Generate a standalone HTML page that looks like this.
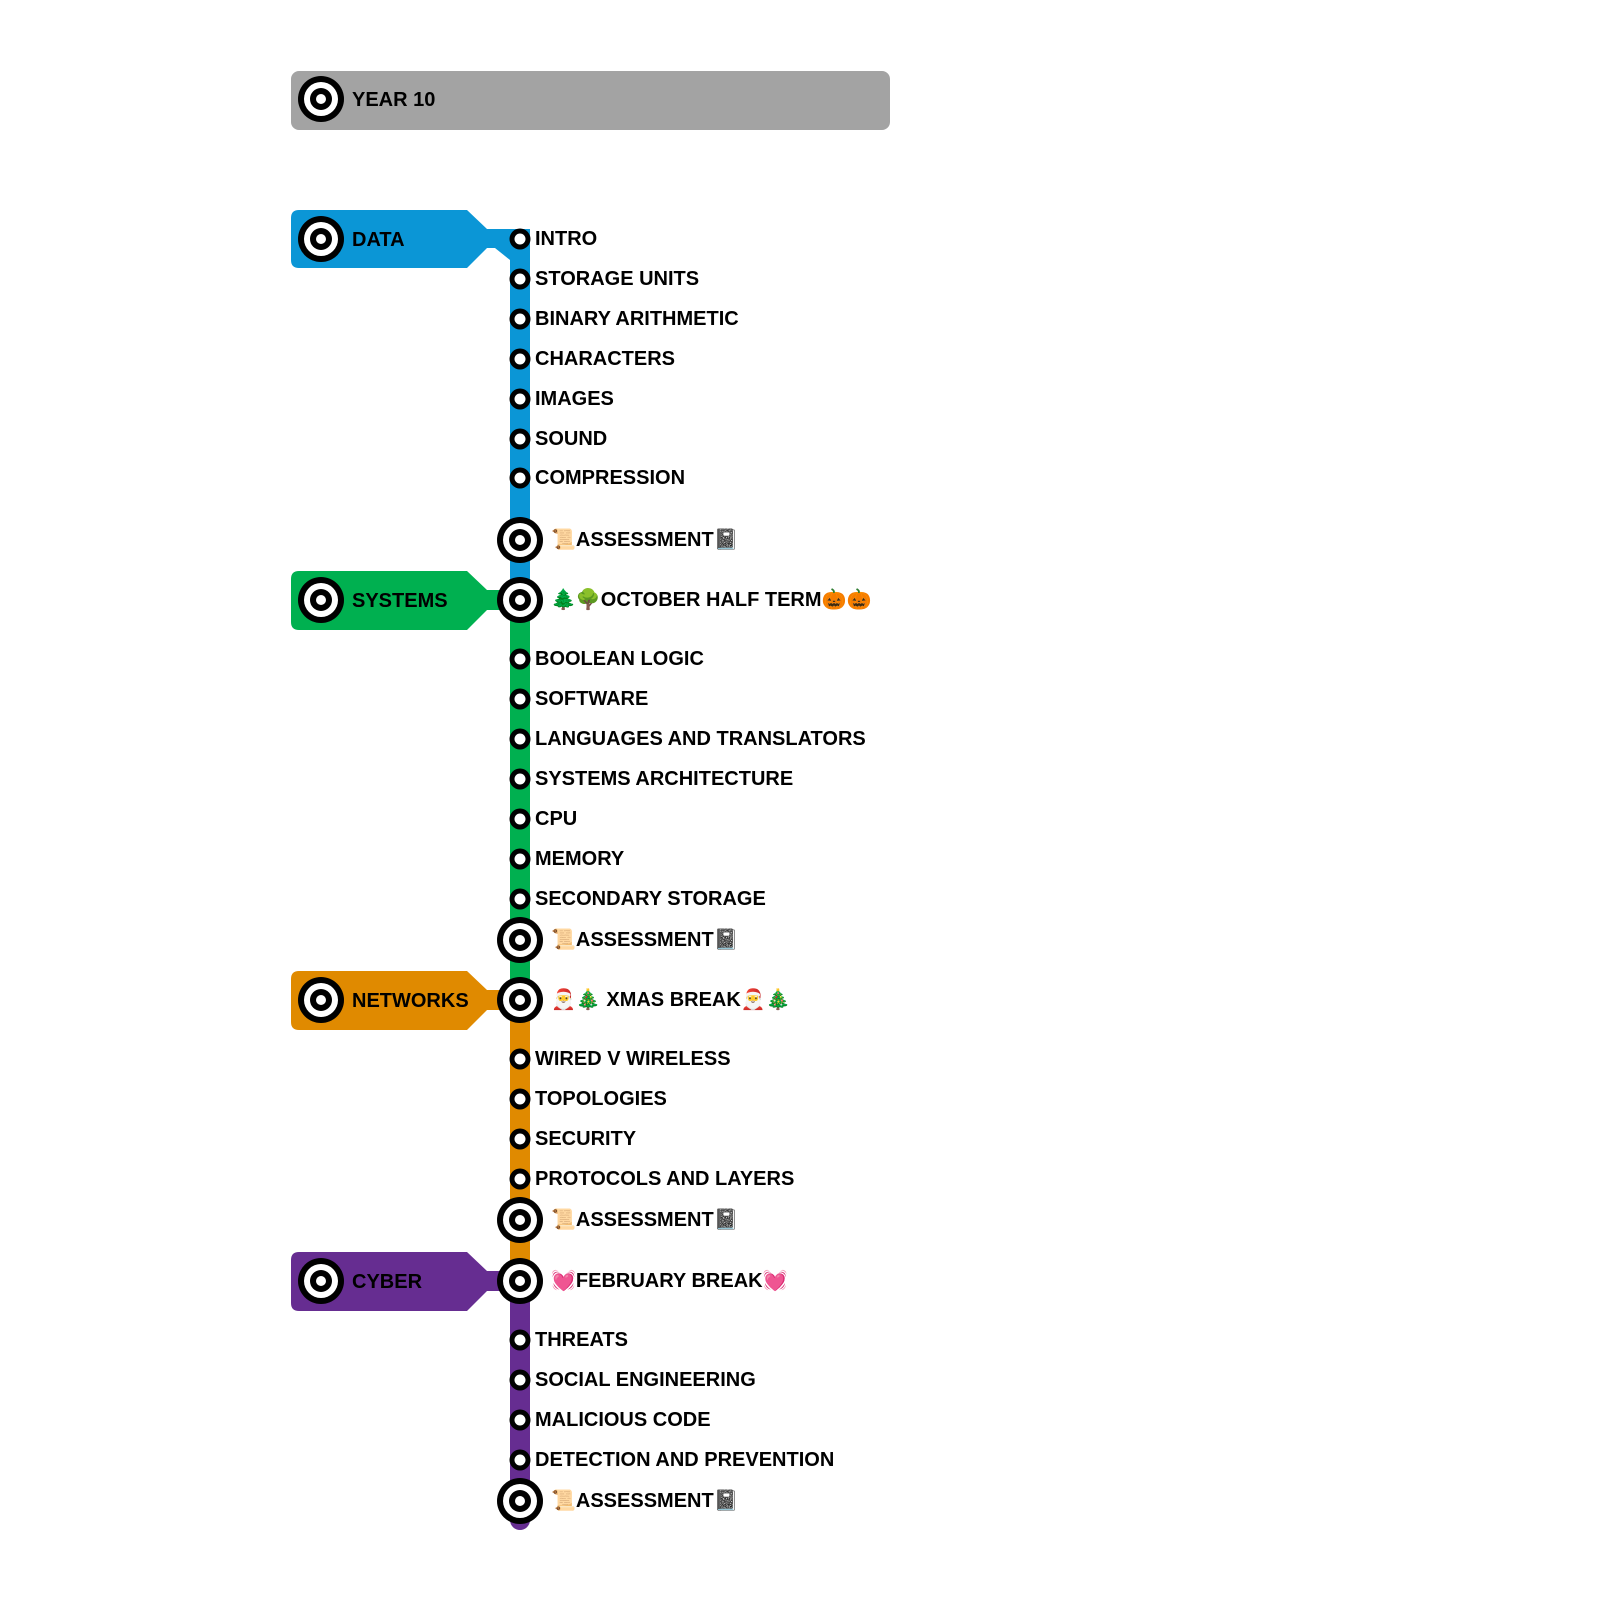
<!DOCTYPE html>
<html><head><meta charset="utf-8"><style>
html,body{margin:0;padding:0;background:#fff;width:1600px;height:1600px;overflow:hidden}
text{font-family:"Liberation Sans","DejaVu Sans",sans-serif;font-weight:bold;font-size:20px;fill:#000}
</style></head><body>
<svg width="1600" height="1600" viewBox="0 0 1600 1600" xmlns="http://www.w3.org/2000/svg">
<defs>
<g id="big"><circle r="23" fill="#000"/><circle r="17" fill="#fff"/><circle r="11" fill="#000"/><circle r="5" fill="#fff"/></g>
<g id="sm"><circle r="10.5" fill="#000"/><circle r="5.5" fill="#fff"/></g>
</defs>
<rect x="291" y="71" width="599" height="59" rx="8" fill="#a3a3a3"/>
<use href="#big" x="321" y="99"/>
<text x="352" y="106">YEAR 10</text>

<rect x="510" y="238" width="20" height="364" fill="#0b96d6"/>
<rect x="510" y="600" width="20" height="402" fill="#00b050"/>
<rect x="510" y="1000" width="20" height="283" fill="#e08a00"/>
<rect x="510" y="1281" width="20" height="239" fill="#662d91"/>
<circle cx="520" cy="1520" r="10" fill="#662d91"/>

<path d="M299 210 H467 L487 229 H530 V260 H510 L495 248 H487 L467 268 H299 Q291 268 291 260 V218 Q291 210 299 210Z" fill="#0b96d6"/>
<use href="#big" x="321" y="239"/>
<text x="352" y="246">DATA</text>
<path d="M299 571 H467 L487 590 H510 V610 H487 L467 630 H299 Q291 630 291 622 V579 Q291 571 299 571Z" fill="#00b050"/>
<use href="#big" x="321" y="600"/>
<text x="352" y="607">SYSTEMS</text>
<path d="M299 971 H467 L487 990 H510 V1010 H487 L467 1030 H299 Q291 1030 291 1022 V979 Q291 971 299 971Z" fill="#e08a00"/>
<use href="#big" x="321" y="1000"/>
<text x="352" y="1007">NETWORKS</text>
<path d="M299 1252 H467 L487 1271 H510 V1291 H487 L467 1311 H299 Q291 1311 291 1303 V1260 Q291 1252 299 1252Z" fill="#662d91"/>
<use href="#big" x="321" y="1281"/>
<text x="352" y="1288">CYBER</text>

<use href="#sm" x="520" y="239"/><text x="535" y="245">INTRO</text>
<use href="#sm" x="520" y="279"/><text x="535" y="285">STORAGE UNITS</text>
<use href="#sm" x="520" y="319"/><text x="535" y="325">BINARY ARITHMETIC</text>
<use href="#sm" x="520" y="359"/><text x="535" y="365">CHARACTERS</text>
<use href="#sm" x="520" y="399"/><text x="535" y="405">IMAGES</text>
<use href="#sm" x="520" y="439"/><text x="535" y="445">SOUND</text>
<use href="#sm" x="520" y="478"/><text x="535" y="484">COMPRESSION</text>
<use href="#big" x="520" y="540"/><text x="551" y="546">📜ASSESSMENT📓</text>
<use href="#big" x="520" y="600"/><text x="551" y="606">🌲🌳OCTOBER HALF TERM🎃🎃</text>
<use href="#sm" x="520" y="659"/><text x="535" y="665">BOOLEAN LOGIC</text>
<use href="#sm" x="520" y="699"/><text x="535" y="705">SOFTWARE</text>
<use href="#sm" x="520" y="739"/><text x="535" y="745">LANGUAGES AND TRANSLATORS</text>
<use href="#sm" x="520" y="779"/><text x="535" y="785">SYSTEMS ARCHITECTURE</text>
<use href="#sm" x="520" y="819"/><text x="535" y="825">CPU</text>
<use href="#sm" x="520" y="859"/><text x="535" y="865">MEMORY</text>
<use href="#sm" x="520" y="899"/><text x="535" y="905">SECONDARY STORAGE</text>
<use href="#big" x="520" y="940"/><text x="551" y="946">📜ASSESSMENT📓</text>
<use href="#big" x="520" y="1000"/><text x="551" y="1006">🎅🎄 XMAS BREAK🎅🎄</text>
<use href="#sm" x="520" y="1059"/><text x="535" y="1065">WIRED V WIRELESS</text>
<use href="#sm" x="520" y="1099"/><text x="535" y="1105">TOPOLOGIES</text>
<use href="#sm" x="520" y="1139"/><text x="535" y="1145">SECURITY</text>
<use href="#sm" x="520" y="1179"/><text x="535" y="1185">PROTOCOLS AND LAYERS</text>
<use href="#big" x="520" y="1220"/><text x="551" y="1226">📜ASSESSMENT📓</text>
<use href="#big" x="520" y="1281"/><text x="551" y="1287">💓FEBRUARY BREAK💓</text>
<use href="#sm" x="520" y="1340"/><text x="535" y="1346">THREATS</text>
<use href="#sm" x="520" y="1380"/><text x="535" y="1386">SOCIAL ENGINEERING</text>
<use href="#sm" x="520" y="1420"/><text x="535" y="1426">MALICIOUS CODE</text>
<use href="#sm" x="520" y="1460"/><text x="535" y="1466">DETECTION AND PREVENTION</text>
<use href="#big" x="520" y="1501"/><text x="551" y="1507">📜ASSESSMENT📓</text>
</svg>
</body></html>
